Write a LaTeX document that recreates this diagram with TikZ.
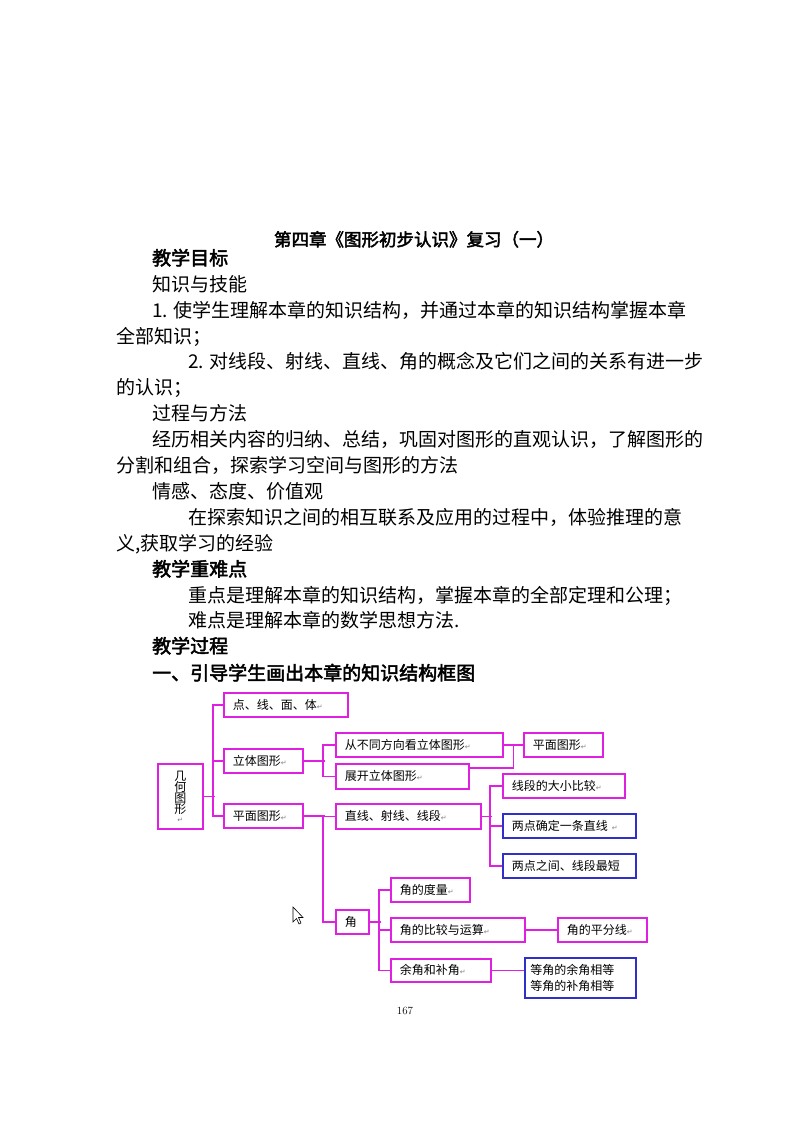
\documentclass[tikz,border=0pt]{standalone}
\usepackage{fontspec}
\newfontfamily\cjk{Noto Sans CJK SC}
\newfontfamily\cjkb{Noto Sans CJK SC}[FakeBold=2.5]
\newfontfamily\dv{DejaVu Sans}
\definecolor{mag}{HTML}{E020E0}
\definecolor{blu}{HTML}{3030C8}
\newcommand\parmk{{\dv\fontsize{7}{8}\selectfont\color{gray}↵}}
\begin{document}
\begin{tikzpicture}[x=1pt,y=-1pt,
  body/.style={anchor=base west,inner sep=0,font=\cjk\fontsize{19}{20}\selectfont},
  bbody/.style={anchor=base west,inner sep=0,font=\cjkb\fontsize{19}{20}\selectfont},
  box/.style={draw=mag,line width=1.6pt,anchor=north west,inner xsep=9pt,inner ysep=0pt,align=left,font=\cjk\fontsize{12}{15}\selectfont},
  bbox/.style={box,draw=blu},
  ln/.style={draw=mag,line width=1.6pt}]
\useasboundingbox[fill=white] (0,0) rectangle (800,1132);
\node[anchor=base,inner sep=0,font=\cjkb\fontsize{17.5}{18}\selectfont] (title) at (414,246) {第四章《图形初步认识》复习（一）};
\node[bbody] (t1) at (152,265) {教学目标};
\node[body] (t2) at (152,291) {知识与技能};
\node[body] (t3) at (152,317) {1. 使学生理解本章的知识结构，并通过本章的知识结构掌握本章};
\node[body] (t4) at (116,343) {全部知识；};
\node[body] (t5) at (188,368) {2. 对线段、射线、直线、角的概念及它们之间的关系有进一步};
\node[body] (t6) at (116,394) {的认识；};
\node[body] (t7) at (152,420) {过程与方法};
\node[body] (t8) at (152,446) {经历相关内容的归纳、总结，巩固对图形的直观认识，了解图形的};
\node[body] (t9) at (116,472) {分割和组合，探索学习空间与图形的方法};
\node[body] (t10) at (152,498) {情感、态度、价值观};
\node[body] (t11) at (188,524) {在探索知识之间的相互联系及应用的过程中，体验推理的意};
\node[body] (t12) at (116,550) {义,获取学习的经验};
\node[bbody] (t13) at (152,576) {教学重难点};
\node[body] (t14) at (188,602) {重点是理解本章的知识结构，掌握本章的全部定理和公理；};
\node[body] (t15) at (188,627) {难点是理解本章的数学思想方法.};
\node[bbody] (t16) at (152,653) {教学过程};
\node[bbody] (t17) at (152,680) {一、引导学生画出本章的知识结构框图};
% boxes
\node[box,minimum width=45pt,minimum height=65pt,inner xsep=0pt,align=center,font=\cjk\fontsize{12}{13}\selectfont] (geo) at (157,763) {几\\[-2pt]何\\[-2pt]图\\[-2pt]形\\[-4pt]\parmk};
\node[box,minimum width=124pt,minimum height=24pt,text width=106pt] (dian) at (223,692) {点、线、面、体\parmk};
\node[box,minimum width=79pt,minimum height=24pt,text width=61pt] (lt) at (223,748) {立体图形\parmk};
\node[box,minimum width=79pt,minimum height=24pt,text width=61pt] (pm) at (223,803) {平面图形\parmk};
\node[box,minimum width=167pt,minimum height=24pt,text width=149pt] (cb) at (335,732) {从不同方向看立体图形\parmk};
\node[box,minimum width=133pt,minimum height=25pt,text width=115pt] (zk) at (335,763) {展开立体图形\parmk};
\node[box,minimum width=79pt,minimum height=24pt,text width=61pt] (pm2) at (523,732) {平面图形\parmk};
\node[box,minimum width=122pt,minimum height=24pt,text width=104pt] (xd) at (502,773) {线段的大小比较\parmk};
\node[bbox,minimum width=133pt,minimum height=24pt,text width=115pt] (ld) at (502,813) {两点确定一条直线\ \parmk};
\node[bbox,minimum width=133pt,minimum height=24pt,text width=115pt] (qd) at (502,853) {两点之间、线段最短};
\node[box,minimum width=145pt,minimum height=25pt,text width=127pt] (zx) at (335,803) {直线、射线、线段\parmk};
\node[box,minimum width=33pt,minimum height=24pt,text width=15pt] (jiao) at (335,909) {角};
\node[box,minimum width=79pt,minimum height=24pt,text width=61pt] (jd) at (390,877) {角的度量\parmk};
\node[box,minimum width=134pt,minimum height=24pt,text width=116pt] (bj) at (390,917) {角的比较与运算\parmk};
\node[box,minimum width=89pt,minimum height=24pt,text width=71pt] (pf) at (557,917) {角的平分线\parmk};
\node[box,minimum width=100pt,minimum height=23pt,text width=82pt] (yj) at (390,958) {余角和补角\parmk};
\node[bbox,minimum width=111pt,minimum height=40pt,text width=100pt,inner xsep=5pt,font=\cjk\fontsize{12}{16}\selectfont] (dj) at (524,957) {等角的余角相等\\等角的补角相等};
\coordinate (zkc) at ([yshift=-5pt]zk.north east);
% connectors
\draw[ln] (geo.east) -- ++(11,0);
\draw[ln] (dian.west) -- ++(-10,0) |- (pm.west);
\draw[ln] (lt.west) -- ++(-10,0);
\draw[ln] (lt.east) -- ++(21,0);
\draw[ln] (cb.west) -- ++(-12,0) |- (zk.west);
\draw[ln] (cb.east) -- ++(10,0) |- (zkc);
\draw[ln] (cb.east) -- (pm2.west);
\draw[ln] (pm.east) -- ++(21,0);
\draw[ln] (zx.west) -- ++(-12,0) |- (jiao.west);
\draw[ln] (zx.east) -- ++(10,0);
\draw[ln] (xd.west) -- ++(-12,0) |- (qd.west);
\draw[ln] (ld.west) -- ++(-12,0);
\draw[ln] (jiao.east) -- ++(11,0);
\draw[ln] (jd.west) -- ++(-11,0) |- (yj.west);
\draw[ln] (bj.west) -- ++(-11,0);
\draw[ln] (bj.east) -- (pf.west);
\draw[ln] (yj.east) -- (yj.east -| dj.west);
% cursor
\draw[fill=white,line width=0.6pt] (293,907) -- (293,922) -- (296.5,918.5) -- (299,924) -- (301,923) -- (298.5,917.5) -- (303,917.5) -- cycle;
\node[anchor=base,inner sep=0,font=\fontsize{11}{12}\selectfont] (pg) at (405,1014) {167};
\end{tikzpicture}
\end{document}
